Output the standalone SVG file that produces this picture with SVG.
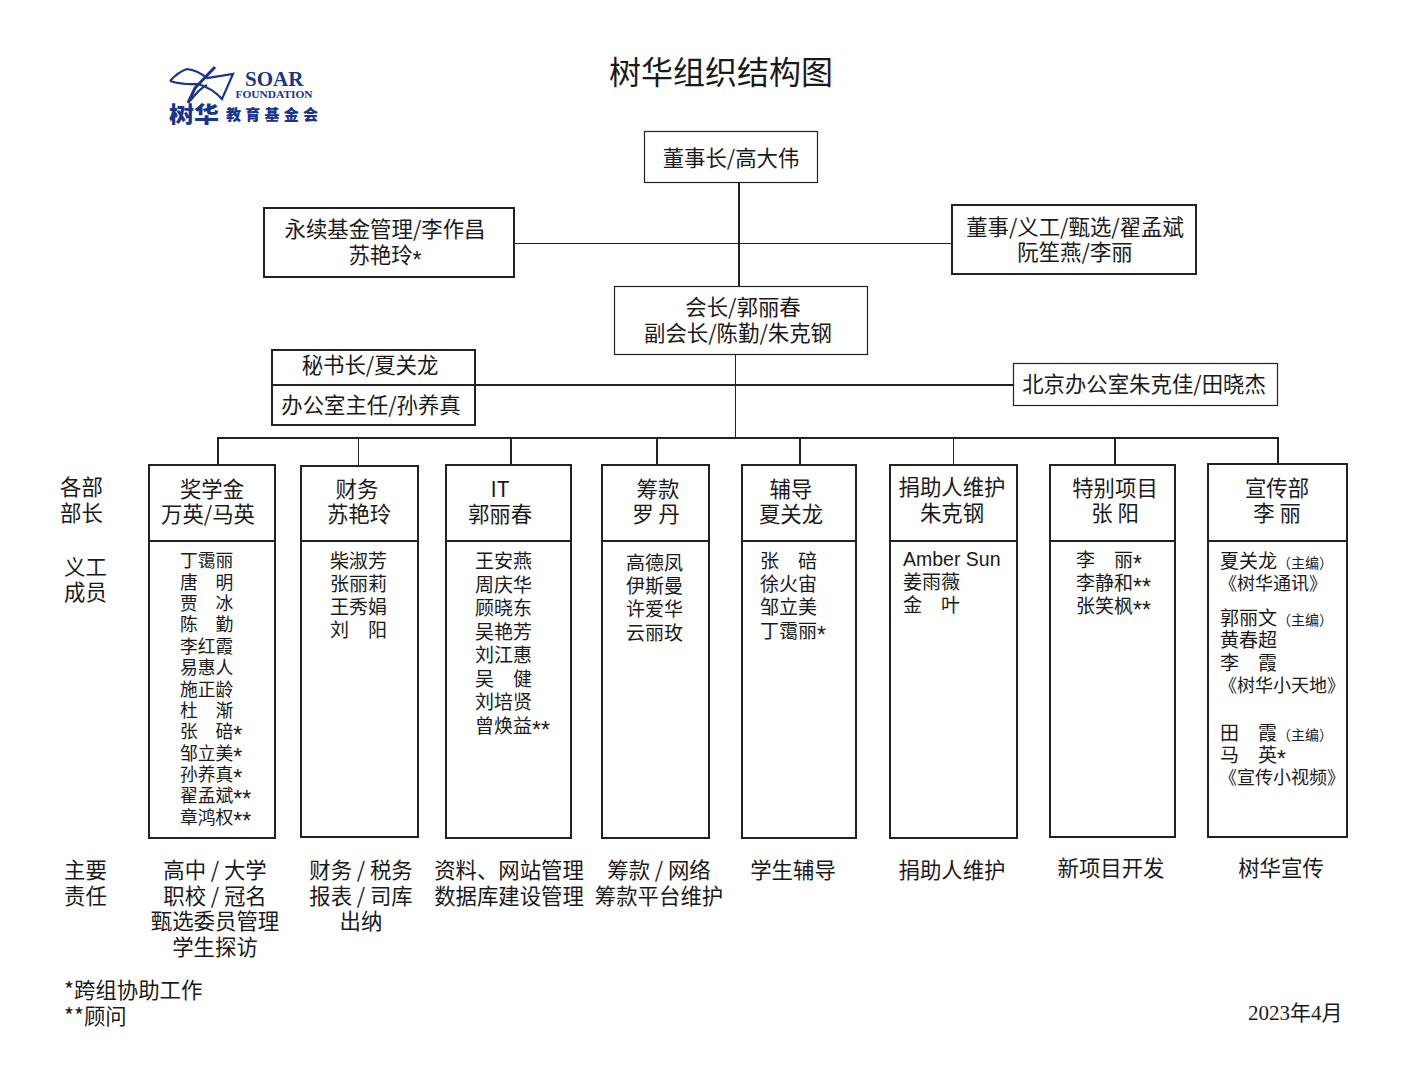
<svg xmlns="http://www.w3.org/2000/svg" width="1408" height="1088" viewBox="0 0 1408 1088">
<style>
text{font-family:"Noto Sans CJK SC","Liberation Sans",sans-serif;fill:#1a1a1a;font-size:21.4px}
.c{text-anchor:middle}
.title{font-size:32px}
.m{font-size:19px}
.s{font-size:17.8px}
.t{font-size:14px}
.g{font-size:18px}
.a{font-family:"Liberation Sans",sans-serif;font-size:23px}
.box{fill:#fff;stroke:#222;stroke-width:2}
.thin{fill:#fff;stroke:#222;stroke-width:1.2}
.l1{stroke:#222;stroke-width:1;fill:none}
.l2{stroke:#222;stroke-width:2;fill:none}
.logo{fill:#17358f}
</style>
<rect width="1408" height="1088" fill="#fff"/>
<g id="title"><text class="title c" x="721" y="84">树华组织结构图</text></g>
<g id="logo">
<path d="M170 81Q178 72 187 69Q197 70 207 78L233 74L222 99Q212 88 198 84Q183 85 170 81M190 101Q200 88 207 85" fill="none" stroke="#17358f" stroke-width="2.2"/>
<path d="M215 67L195 88L188 103" fill="none" stroke="#17358f" stroke-width="3"/>
<text class="logo" x="245" y="85.500" style="font-family:'Liberation Serif',serif;font-weight:700;font-size:21px">SOAR</text>
<text class="logo" x="235.500" y="98" style="font-family:'Liberation Serif',serif;font-weight:700;font-size:11.400px">FOUNDATION</text>
<text class="logo" x="169" y="122" style="font-weight:900;font-size:22px" textLength="50" lengthAdjust="spacingAndGlyphs">树华</text>
<text class="logo" x="226" y="120" style="font-weight:900;font-size:15px" textLength="92">教育基金会</text>
</g>
<g id="connectors">
<path class="l2" d="M739 183V286M218 438H1278M272 385H1013M218 437V465M511 437V465M657 437V465M800 437V465M1115 437V465M1278 437V465"/>
<path class="l1" d="M514 243.500H952M735.500 354V438M358.500 438V466M953.500 438V465"/>
</g>
<g id="n-chair"><rect class="thin" x="644.500" y="131.500" width="173" height="51"/><text class="c" x="731" y="166">董事长/高大伟</text></g>
<g id="n-fund"><rect class="box" x="264" y="208" width="250" height="69"/><text class="c" x="385" y="237">永续基金管理/李作昌</text><text class="c" x="385" y="263">苏艳玲<tspan class="a" dy="5">*</tspan></text></g>
<g id="n-directors"><rect class="box" x="952" y="205" width="244" height="69"/><text class="c" x="1075" y="235">董事/义工/甄选/翟孟斌</text><text class="c" x="1075" y="260">阮笙燕/李丽</text></g>
<g id="n-president"><rect class="thin" x="614.500" y="286.500" width="253" height="68"/><text class="c" x="743" y="315">会长/郭丽春</text><text class="c" x="738" y="341">副会长/陈勤/朱克钢</text></g>
<g id="n-secretary"><rect class="box" x="272" y="350" width="203" height="75" style="fill:none"/><text class="c" x="370" y="373">秘书长/夏关龙</text><text class="c" x="371" y="413">办公室主任/孙养真</text></g>
<g id="n-beijing"><rect class="thin" x="1013.500" y="363.500" width="264" height="42"/><text class="c" x="1144" y="392">北京办公室朱克佳/田晓杰</text></g>

<g id="labels">
<text x="60" y="495">各部</text><text x="60" y="521">部长</text>
<text x="64" y="575">义工</text><text x="64" y="600">成员</text>
<text x="64" y="878">主要</text><text x="64" y="904">责任</text>
<text x="64" y="998">*跨组协助工作</text><text x="64" y="1024">**顾问</text>
<text x="1248" y="1020" style="font-family:'Liberation Serif','Noto Sans CJK SC',serif;font-size:21px">2023年4月</text>
</g>

<g id="d-scholarship"><rect class="box" x="149" y="465" width="126" height="373"/><path class="l2" d="M149 541H275"/>
<text class="c" x="212" y="497">奖学金</text><text class="c" x="208" y="522">万英/马英</text>
<text class="s" x="180" y="567">丁霭丽</text><text class="s" x="180" y="589">唐　明</text><text class="s" x="180" y="610">贾　冰</text><text class="s" x="180" y="631">陈　勤</text><text class="s" x="180" y="653">李红霞</text><text class="s" x="180" y="674">易惠人</text><text class="s" x="180" y="696">施正龄</text><text class="s" x="180" y="717">杜　渐</text><text class="s" x="180" y="738">张　碚<tspan class="a" dy="5">*</tspan></text><text class="s" x="180" y="760">邹立美<tspan class="a" dy="5">*</tspan></text><text class="s" x="180" y="781">孙养真<tspan class="a" dy="5">*</tspan></text><text class="s" x="180" y="802">翟孟斌<tspan class="a" dy="5">**</tspan></text><text class="s" x="180" y="824">章鸿权<tspan class="a" dy="5">**</tspan></text>
<text class="c" x="215" y="878">高中 / 大学</text><text class="c" x="215" y="904">职校 / 冠名</text><text class="c" x="215" y="929">甄选委员管理</text><text class="c" x="215" y="955">学生探访</text></g>

<g id="d-finance"><rect class="box" x="301" y="466" width="117" height="371"/><path class="l2" d="M301 541H418"/>
<text class="c" x="357" y="497">财务</text><text class="c" x="359" y="522">苏艳玲</text>
<text class="m" x="330" y="568">柴淑芳</text><text class="m" x="330" y="591">张丽莉</text><text class="m" x="330" y="614">王秀娟</text><text class="m" x="330" y="637">刘　阳</text>
<text class="c" x="361" y="878">财务 / 税务</text><text class="c" x="361" y="904">报表 / 司库</text><text class="c" x="361" y="929">出纳</text></g>

<g id="d-it"><rect class="box" x="446" y="465" width="125" height="373"/><path class="l2" d="M446 541H571"/>
<text class="c" x="500" y="497">IT</text><text class="c" x="500" y="522">郭丽春</text>
<text class="m" x="475" y="568">王安燕</text><text class="m" x="475" y="592">周庆华</text><text class="m" x="475" y="615">顾晓东</text><text class="m" x="475" y="639">吴艳芳</text><text class="m" x="475" y="662">刘江惠</text><text class="m" x="475" y="686">吴　健</text><text class="m" x="475" y="709">刘培贤</text><text class="m" x="475" y="733">曾焕益<tspan class="a" dy="5">**</tspan></text>
<text class="c" x="509" y="878">资料、网站管理</text><text class="c" x="509" y="904">数据库建设管理</text></g>

<g id="d-fundraising"><rect class="box" x="602" y="465" width="107" height="373"/><path class="l2" d="M602 541H709"/>
<text class="c" x="658" y="497">筹款</text><text class="c" x="656" y="522">罗 丹</text>
<text class="m" x="626" y="570">高德凤</text><text class="m" x="626" y="593">伊斯曼</text><text class="m" x="626" y="616">许爱华</text><text class="m" x="626" y="640">云丽玫</text>
<text class="c" x="659" y="878">筹款 / 网络</text><text class="c" x="659" y="904">筹款平台维护</text></g>

<g id="d-tutoring"><rect class="box" x="742" y="465" width="114" height="373"/><path class="l2" d="M742 541H856"/>
<text class="c" x="791" y="497">辅导</text><text class="c" x="791" y="522">夏关龙</text>
<text class="m" x="760" y="568">张　碚</text><text class="m" x="760" y="591">徐火宙</text><text class="m" x="760" y="614">邹立美</text><text class="m" x="760" y="638">丁霭丽<tspan class="a" dy="5">*</tspan></text>
<text class="c" x="793" y="878">学生辅导</text></g>

<g id="d-donor"><rect class="box" x="890" y="465" width="127" height="373"/><path class="l2" d="M890 541H1017"/>
<text class="c" x="952" y="495">捐助人维护</text><text class="c" x="952" y="521">朱克钢</text>
<text x="903" y="566" style="font-family:'Liberation Sans',sans-serif;font-size:19.500px">Amber Sun</text><text class="m" x="903" y="589">姜雨薇</text><text class="m" x="903" y="612">金　叶</text>
<text class="c" x="952" y="878">捐助人维护</text></g>

<g id="d-special"><rect class="box" x="1050" y="465" width="125" height="372"/><path class="l2" d="M1050 541H1175"/>
<text class="c" x="1115" y="496">特别项目</text><text class="c" x="1115" y="521">张 阳</text>
<text class="m" x="1076" y="567">李　丽<tspan class="a" dy="5">*</tspan></text><text class="m" x="1076" y="590">李静和<tspan class="a" dy="5">**</tspan></text><text class="m" x="1076" y="613">张笑枫<tspan class="a" dy="5">**</tspan></text>
<text class="c" x="1111" y="876">新项目开发</text></g>

<g id="d-publicity"><rect class="box" x="1208" y="464" width="139" height="373"/><path class="l2" d="M1208 541H1347"/>
<text class="c" x="1277" y="496">宣传部</text><text class="c" x="1277" y="521">李 丽</text>
<text class="m" x="1220" y="568">夏关龙<tspan class="t">（主编）</tspan></text><text class="g" x="1219" y="590">《树华通讯》</text>
<text class="m" x="1220" y="625">郭丽文<tspan class="t">（主编）</tspan></text><text class="m" x="1220" y="647">黄春超</text><text class="m" x="1220" y="670">李　霞</text><text class="g" x="1219" y="692">《树华小天地》</text>
<text class="m" x="1220" y="740">田　霞<tspan class="t">（主编）</tspan></text><text class="m" x="1220" y="762">马　英<tspan class="a" dy="5">*</tspan></text><text class="g" x="1219" y="784">《宣传小视频》</text>
<text class="c" x="1281" y="876">树华宣传</text></g>
</svg>
